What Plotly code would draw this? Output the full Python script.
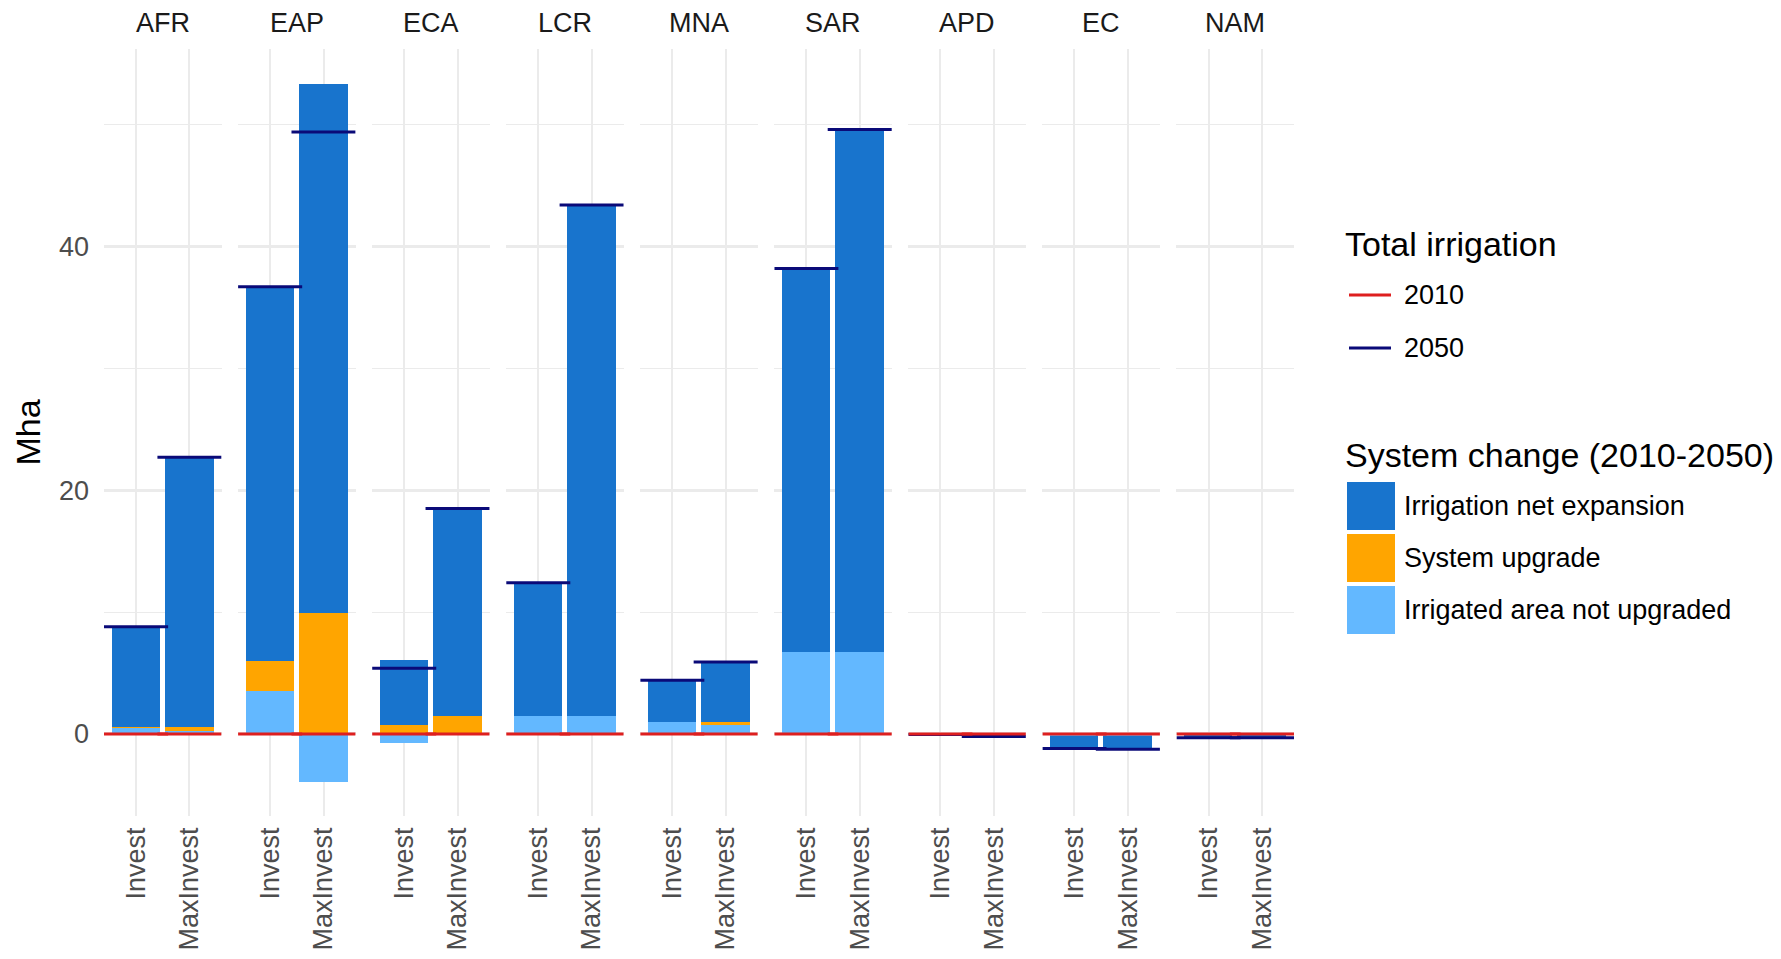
import plotly.graph_objects as go
from plotly.subplots import make_subplots

# ---------------- data ----------------
regions = ["AFR", "EAP", "ECA", "LCR", "MNA", "SAR", "APD", "EC", "NAM"]
scenarios = ["Invest", "MaxInvest"]

# Irrigated area not upgraded (Mha), [Invest, MaxInvest] per region
not_upgraded = [
    [0.5, 0.25], [3.5, -3.9], [-0.7, 0.0], [1.5, 1.5], [0.95, 0.8],
    [6.7, 6.7], [0.0, 0.0], [-0.15, -0.15], [0.0, 0.0],
]
# System upgrade (Mha)
system_upgrade = [
    [0.05, 0.3], [2.5, 9.9], [0.7, 1.5], [0.0, 0.0], [0.0, 0.15],
    [0.0, 0.0], [0.0, 0.0], [0.0, 0.0], [0.0, 0.0],
]
# Irrigation net expansion (Mha)
net_expansion = [
    [8.25, 22.15], [30.7, 43.4], [5.37, 17.0], [10.9, 41.9], [3.48, 4.98],
    [31.5, 42.9], [-0.05, -0.2], [-1.05, -1.1], [-0.3, -0.3],
]
# Total irrigation change lines (Mha)
total_2010 = [
    [0, 0], [0, 0], [0, 0], [0, 0], [0, 0], [0, 0], [0, 0], [0, 0], [0, 0],
]
total_2050 = [
    [8.8, 22.7], [36.7, 49.4], [5.4, 18.5], [12.4, 43.4], [4.4, 5.9],
    [38.2, 49.6], [-0.05, -0.2], [-1.2, -1.25], [-0.3, -0.3],
]

y_ticks = [0, 20, 40]

# ---------------- style ----------------
C_NET = "#1874CD"
C_UPG = "#FFA500"
C_NOT = "#63B8FF"
C_2010 = "#DE1F1F"
C_2050 = "#0A0A78"
GRID = "#EBEBEB"
FONT = "Liberation Sans, Arial, sans-serif"

FIG_W, FIG_H = 1781, 959
ML, MR, MT, MB = 104, 487, 49, 143
PW, PH = FIG_W - ML - MR, FIG_H - MT - MB


def px2x(px):
    return (px - ML) / PW


def py2y(py):
    return 1 - (py - MT) / PH


n = len(regions)
fig = make_subplots(rows=1, cols=n, shared_yaxes=True,
                    horizontal_spacing=16.5 / PW)

xpos = list(range(len(scenarios)))
half = 0.6

for i in range(n):
    col = i + 1
    for vals, color, name in [
        (not_upgraded[i], C_NOT, "Irrigated area not upgraded"),
        (system_upgrade[i], C_UPG, "System upgrade"),
        (net_expansion[i], C_NET, "Irrigation net expansion"),
    ]:
        fig.add_trace(go.Bar(x=xpos, y=vals, width=0.9, marker_color=color,
                             marker_line_width=0, name=name,
                             showlegend=False), row=1, col=col)
    for vals, color, name in [(total_2050[i], C_2050, "2050"),
                              (total_2010[i], C_2010, "2010")]:
        xs, ys = [], []
        for xp, v in zip(xpos, vals):
            xs += [xp - half, xp + half, None]
            ys += [v, v, None]
        fig.add_trace(go.Scatter(x=xs, y=ys, mode="lines",
                                 line=dict(color=color, width=3),
                                 name=name, showlegend=False,
                                 hoverinfo="skip"), row=1, col=col)

    fig.update_xaxes(row=1, col=col, range=[-half, len(scenarios) - 1 + half],
                     tickvals=xpos, ticktext=scenarios, tickangle=-90,
                     showgrid=True, gridcolor=GRID, gridwidth=2,
                     zeroline=False, showline=False, ticks="",
                     ticklabelstandoff=5,
                     tickfont=dict(family=FONT, size=27, color="#4D4D4D"))
    fig.update_yaxes(row=1, col=col, range=[-6.73, 56.2], tickvals=y_ticks,
                     showgrid=True, gridcolor=GRID, gridwidth=2.6,
                     minor=dict(showgrid=True, dtick=10, gridcolor=GRID,
                                gridwidth=1.4, tick0=0),
                     zeroline=False, showline=False, ticks="",
                     tickfont=dict(family=FONT, size=27, color="#4D4D4D"))
    fig.add_annotation(text=regions[i], xref=f"x{'' if col == 1 else col} domain",
                       yref="paper", x=0.5, y=1, yanchor="middle", yshift=26,
                       showarrow=False,
                       font=dict(family=FONT, size=27, color="#1A1A1A"))

fig.update_yaxes(row=1, col=1, ticklabelstandoff=14,
                 title=dict(text="Mha", standoff=8,
                            font=dict(family=FONT, size=34, color="#000000")))

# ---------------- legend (drawn in paper space) ----------------
shapes = []
annotations = []


def text(t, px, py, size):
    annotations.append(dict(text=t, xref="paper", yref="paper", x=px2x(px),
                            y=py2y(py), xanchor="left", yanchor="middle",
                            showarrow=False,
                            font=dict(family=FONT, size=size,
                                      color="#000000")))


text("Total irrigation", 1343, 244, 34)
for py, color, lab in [(295, C_2010, "2010"), (348, C_2050, "2050")]:
    shapes.append(dict(type="line", xref="paper", yref="paper",
                       x0=px2x(1349), x1=px2x(1391), y0=py2y(py), y1=py2y(py),
                       line=dict(color=color, width=3)))
    text(lab, 1402, py, 27)

text("System change (2010-2050)", 1343, 455, 34)
for (y0, y1), color, lab in [((482, 530), C_NET, "Irrigation net expansion"),
                             ((534, 582), C_UPG, "System upgrade"),
                             ((586, 634), C_NOT, "Irrigated area not upgraded")]:
    shapes.append(dict(type="rect", xref="paper", yref="paper",
                       x0=px2x(1347), x1=px2x(1395), y0=py2y(y1), y1=py2y(y0),
                       fillcolor=color, line=dict(width=0)))
    text(lab, 1402, (y0 + y1) / 2, 27)

for s in shapes:
    fig.add_shape(**s)
for a in annotations:
    fig.add_annotation(**a)

fig.update_layout(
    width=FIG_W, height=FIG_H,
    margin=dict(l=ML, r=MR, t=MT, b=MB, autoexpand=False),
    barmode="relative", bargap=0,
    plot_bgcolor="white", paper_bgcolor="white",
    showlegend=False,
    font=dict(family=FONT),
)

fig.write_html(
    "out.html",
    config={"displayModeBar": False},
    post_script="document.body.style.margin='0';"
                "document.body.style.overflow='hidden';",
)
